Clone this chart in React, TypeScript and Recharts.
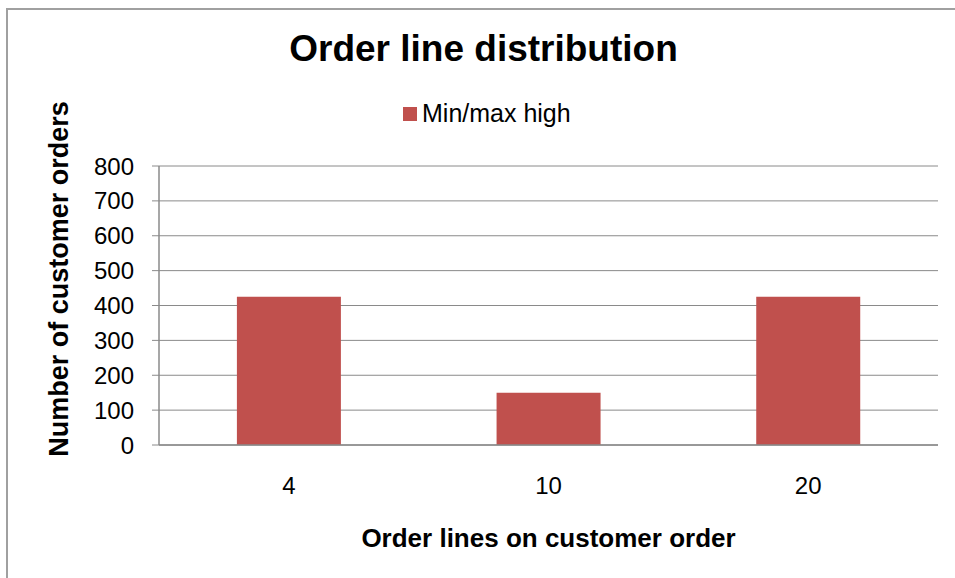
import { BarChart, Bar, XAxis, YAxis, CartesianGrid, Legend, Label } from "recharts"

const categories = ["4", "10", "20"]
const minMaxHigh = [425, 150, 425]
const yTicks = [0, 100, 200, 300, 400, 500, 600, 700, 800]

const data = categories.map((lines, i) => ({ lines, minMaxHigh: minMaxHigh[i] }))

const FONT = "'Liberation Sans', Arial, sans-serif"
const GRID = "#8a8a8a"
const RED = "#C0504D"

function LegendBox() {
  return (
    <div style={{ display: "flex", alignItems: "center", fontFamily: FONT, fontSize: 25, color: "#000" }}>
      <span style={{ width: 14, height: 14, background: RED, display: "inline-block" }} />
      <span style={{ marginLeft: 5 }}>Min/max high</span>
    </div>
  )
}

export default function App() {
  return (
    <div
      style={{
        position: "absolute",
        left: 0,
        top: 0,
        width: 955,
        height: 578,
        overflow: "hidden",
        background: "#fff",
        fontFamily: FONT,
      }}
    >
      <div
        style={{
          position: "absolute",
          left: 6,
          top: 8,
          width: 1000,
          height: 650,
          border: "2px solid #a0a0a0",
        }}
      />
      <div
        style={{
          position: "absolute",
          left: 0,
          width: 967,
          top: 28,
          textAlign: "center",
          fontSize: 37,
          fontWeight: "bold",
          color: "#000",
        }}
      >
        Order line distribution
      </div>
      <div style={{ position: "absolute", left: 0, top: 0 }}>
        <BarChart
          width={955}
          height={578}
          data={data}
          margin={{ top: 166, right: 17, bottom: 0, left: 0 }}
          barCategoryGap="30%"
        >
          <CartesianGrid vertical={false} stroke={GRID} />
          <XAxis
            dataKey="lines"
            axisLine={{ stroke: GRID, strokeWidth: 1.5 }}
            tickLine={false}
            tickSize={0}
            tickMargin={32}
            tick={{ fill: "#000", fontSize: 24, fontFamily: FONT }}
            height={133}
          >
            <Label
              content={({ viewBox }: any) => (
                <text
                  x={viewBox.x + viewBox.width / 2}
                  y={547}
                  textAnchor="middle"
                  fontFamily={FONT}
                  fontSize={26}
                  fontWeight="bold"
                  fill="#000"
                >
                  Order lines on customer order
                </text>
              )}
            />
          </XAxis>
          <YAxis
            width={159}
            domain={[0, 800]}
            ticks={yTicks}
            interval={0}
            axisLine={{ stroke: GRID, strokeWidth: 1.5 }}
            tickLine={{ stroke: GRID }}
            tickSize={7}
            tickMargin={18}
            tick={{ fill: "#000", fontSize: 24, fontFamily: FONT }}
          >
            <Label
              content={() => (
                <text
                  x={0}
                  y={0}
                  transform="translate(68 279) rotate(-90)"
                  textAnchor="middle"
                  fontFamily={FONT}
                  fontSize={27}
                  fontWeight="bold"
                  fill="#000"
                >
                  Number of customer orders
                </text>
              )}
            />
          </YAxis>
          <Legend
            layout="horizontal"
            verticalAlign="middle"
            align="center"
            content={() => <LegendBox />}
            wrapperStyle={{ top: 99, left: 403, width: "auto" }}
          />
          <Bar dataKey="minMaxHigh" name="Min/max high" fill={RED} isAnimationActive={false} />
        </BarChart>
      </div>
    </div>
  )
}
